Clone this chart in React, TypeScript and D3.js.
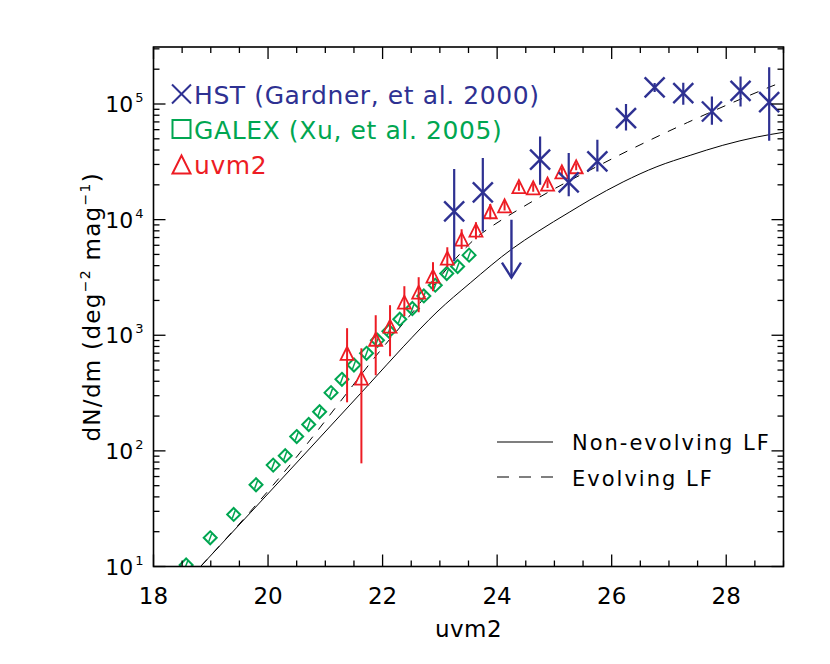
import React from 'react';
import * as d3 from 'd3';

// ---------- data ----------
const xTickValues = [18, 20, 22, 24, 26, 28];
const yTickExponents = [1, 2, 3, 4, 5];

// GALEX (Xu et al. 2005) number counts
const galexMag = [18.57, 18.99, 19.40, 19.79, 20.09, 20.30, 20.50, 20.71, 20.90, 21.10, 21.29, 21.50, 21.72, 21.91, 22.11, 22.30, 22.52, 22.72, 22.92, 23.12, 23.31, 23.51];
const galexN = [10.3, 17.7, 28.2, 50.9, 75.3, 90.8, 133, 169, 218, 319, 416, 553, 698, 905, 1084, 1377, 1704, 2188, 2710, 3420, 3933, 4930];

// uvm2 counts with error bars
const uvm2Mag = [21.38, 21.63, 21.88, 22.13, 22.38, 22.63, 22.88, 23.13, 23.38, 23.63, 23.88, 24.13, 24.38, 24.63, 24.88, 25.13, 25.38];
const uvm2N = [698, 425, 923, 1197, 1932, 2357, 3243, 4645, 6778, 8110, 11700, 13160, 19300, 18850, 20290, 25900, 28650];
const uvm2Lo = [263, 78, 451, 658, 1462, 1581, 2404, 3882, 5565, 6780, 10100, 12000, 17800, 17400, 18800, 24000, 26700];
const uvm2Hi = [1151, 771, 1490, 1820, 2656, 3177, 4285, 5780, 8274, 9510, 13620, 14400, 20900, 20400, 21900, 27900, 30700];

// HST (Gardner et al. 2000)
const hstMag = [23.25, 23.75, 24.75, 25.25, 25.75, 26.25, 26.75, 27.25, 27.75, 28.25, 28.75];
const hstN = [11780, 17180, 32970, 20990, 31860, 75500, 139000, 124200, 86100, 129900, 103700];
const hstLo = [4355, 7910, 20050, 15890, 26120, 59000, 127000, 98400, 66100, 95100, 48100];
const hstHi = [27360, 34040, 52360, 37670, 49070, 99770, 152000, 152400, 116100, 172900, 208300];

// HST upper limit
const limitMag = [24.25];
const limitN = [10000];

// model curves
const noEvoMag = [18.83, 19.69, 20.56, 21.43, 21.78, 22.36, 22.95, 23.53, 24.26, 24.70, 25.27, 25.62, 26.20, 26.79, 27.37, 27.94, 28.54, 29.0];
const noEvoN = [10.1, 29.1, 85.1, 249.5, 385, 794, 1591, 2833, 5580, 7830, 11670, 14820, 21200, 28710, 35970, 43950, 51880, 56890];
const evoMag = [18.83, 19.69, 20.56, 20.86, 21.12, 21.48, 21.83, 22.55, 23.27, 23.65, 23.89, 24.19, 24.54, 24.87, 25.80, 26.27, 26.62, 26.97, 27.32, 27.67, 28.01, 28.36, 28.80, 28.99];
const evoN = [10.1, 29.9, 96.6, 148.6, 217, 368, 614, 1641, 4571, 7080, 8640, 10760, 13670, 17020, 29790, 39080, 47460, 57410, 69020, 82600, 97960, 116100, 142900, 155600];

const legendLabels = ['HST (Gardner, et al. 2000)', 'GALEX (Xu, et al. 2005)', 'uvm2'];
const modelLabels = ['Non-evolving LF', 'Evolving LF'];

// ---------- style ----------
const BLUE = '#2E3192';
const GREEN = '#00A651';
const RED = '#ED1C24';
const FONT = "'DejaVu Sans', sans-serif";
const FW = 400;

const W = 830;
const H = 664;
const L = 153.5, R = 783.5, T = 47, B = 566.5;

function Cross({ cx, cy, s, color, w }: { cx: number; cy: number; s: number; color: string; w: number }) {
  return (
    <g stroke={color} strokeWidth={w} fill="none">
      <line x1={cx - s} y1={cy - s} x2={cx + s} y2={cy + s} />
      <line x1={cx - s} y1={cy + s} x2={cx + s} y2={cy - s} />
    </g>
  );
}

function Tri({ cx, cy, s, color, w }: { cx: number; cy: number; s: number; color: string; w: number }) {
  return (
    <path d={`M${cx - s},${cy + s} L${cx},${cy - s} L${cx + s},${cy + s} Z`} stroke={color} strokeWidth={w} fill="none" strokeLinejoin="miter" />
  );
}

function Diamond({ cx, cy, s, color, w }: { cx: number; cy: number; s: number; color: string; w: number }) {
  return (
    <path d={`M${cx},${cy - s} L${cx + s},${cy} L${cx},${cy + s} L${cx - s},${cy} Z`} stroke={color} strokeWidth={w} fill="none" />
  );
}

export default function App() {
  const x = d3.scaleLinear().domain([18, 29]).range([L, R]);
  const y = d3.scaleLog().domain([10, Math.pow(10, 5.493)]).range([B, T]);

  const line = d3
    .line<[number, number]>()
    .x((d) => x(d[0]))
    .y((d) => y(d[1]))
    .curve(d3.curveMonotoneX);

  const noEvoPts: [number, number][] = noEvoMag.map((m, i) => [m, noEvoN[i]]);
  const evoPts: [number, number][] = evoMag.map((m, i) => [m, evoN[i]]);

  const xMajor = d3.range(18, 29.001, 2);
  const xMinor = d3.range(18, 29.001, 0.5).filter((v) => Math.abs(v / 2 - Math.round(v / 2)) > 1e-6);
  const yMajor = yTickExponents.map((e) => Math.pow(10, e));
  const yMinor: number[] = [];
  for (let e = 1; e <= 5; e++) {
    for (let k = 2; k <= 9; k++) {
      const v = k * Math.pow(10, e);
      if (v < Math.pow(10, 5.493)) yMinor.push(v);
    }
  }
  const MAJ = 12;
  const MIN = 6;

  return (
    <svg width={W} height={H} style={{ position: 'fixed', left: 0, top: 0, background: '#fff' }} fontFamily={FONT}>
      <defs>
        <clipPath id="plotclip">
          <rect x={L} y={T} width={R - L} height={B - T} />
        </clipPath>
      </defs>
      <rect x={0} y={0} width={W} height={H} fill="#fff" />

      {/* model curves */}
      <g clipPath="url(#plotclip)" fill="none" stroke="#000" strokeWidth={1}>
        <path d={line(noEvoPts) || ''} />
        <path d={line(evoPts) || ''} strokeDasharray="9,9" />
      </g>

      {/* GALEX diamonds */}
      <g clipPath="url(#plotclip)">
        {galexMag.map((m, i) => {
          const cx = x(m);
          const cy = y(galexN[i]);
          return (
            <g key={'g' + i}>
              <Diamond cx={cx} cy={cy} s={6.5} color={GREEN} w={2} />
              <line x1={cx + 1.5} y1={cy - 4} x2={cx - 1.5} y2={cy + 4} stroke={GREEN} strokeWidth={1.5} />
            </g>
          );
        })}
      </g>

      {/* uvm2 triangles */}
      <g clipPath="url(#plotclip)">
        {uvm2Mag.map((m, i) => {
          const cx = x(m);
          const cy = y(uvm2N[i]);
          return (
            <g key={'u' + i}>
              <line x1={cx} x2={cx} y1={y(uvm2Hi[i])} y2={y(uvm2Lo[i])} stroke={RED} strokeWidth={2} />
              <Tri cx={cx} cy={cy} s={6.5} color={RED} w={1.8} />
            </g>
          );
        })}
      </g>

      {/* HST crosses */}
      <g clipPath="url(#plotclip)">
        {hstMag.map((m, i) => {
          const cx = x(m);
          const cy = y(hstN[i]);
          return (
            <g key={'h' + i}>
              <line x1={cx} x2={cx} y1={y(hstHi[i])} y2={y(hstLo[i])} stroke={BLUE} strokeWidth={2.2} />
              <Cross cx={cx} cy={cy} s={10} color={BLUE} w={2.4} />
            </g>
          );
        })}
        {limitMag.map((m, i) => {
          const cx = x(m);
          const y0 = y(limitN[i]);
          const y1 = y0 + 58;
          return (
            <g key={'l' + i} stroke={BLUE} strokeWidth={2.4} fill="none">
              <line x1={cx} x2={cx} y1={y0} y2={y1} />
              <polyline points={`${cx - 9.5},${y1 - 15} ${cx},${y1} ${cx + 9.5},${y1 - 15}`} />
            </g>
          );
        })}
      </g>

      {/* frame */}
      <rect x={L} y={T} width={R - L} height={B - T} fill="none" stroke="#000" strokeWidth={1.6} />

      {/* ticks */}
      <g stroke="#000" strokeWidth={1.3}>
        {xMajor.map((v) => (
          <g key={'xM' + v}>
            <line x1={x(v)} x2={x(v)} y1={B} y2={B - MAJ} />
            <line x1={x(v)} x2={x(v)} y1={T} y2={T + MAJ} />
          </g>
        ))}
        {xMinor.map((v) => (
          <g key={'xm' + v}>
            <line x1={x(v)} x2={x(v)} y1={B} y2={B - MIN} />
            <line x1={x(v)} x2={x(v)} y1={T} y2={T + MIN} />
          </g>
        ))}
        {yMajor.map((v) => (
          <g key={'yM' + v}>
            <line x1={L} x2={L + MAJ} y1={y(v)} y2={y(v)} />
            <line x1={R} x2={R - MAJ} y1={y(v)} y2={y(v)} />
          </g>
        ))}
        {yMinor.map((v) => (
          <g key={'ym' + v}>
            <line x1={L} x2={L + MIN} y1={y(v)} y2={y(v)} />
            <line x1={R} x2={R - MIN} y1={y(v)} y2={y(v)} />
          </g>
        ))}
      </g>

      {/* tick labels */}
      <g fontSize={23} fontWeight={FW} fill="#000">
        {xTickValues.map((v) => (
          <text key={'xl' + v} x={x(v)} y={B + 37.5} textAnchor="middle">
            {v}
          </text>
        ))}
      </g>
      <g fontSize={22} fontWeight={FW} fill="#000">
        {yTickExponents.map((e) => (
          <text key={'yl' + e} x={143.5} y={y(Math.pow(10, e)) + 8} textAnchor="end">
            10
            <tspan dy={-10} fontSize={13} dx={2}>
              {e}
            </tspan>
          </text>
        ))}
      </g>

      {/* axis titles */}
      <text x={(L + R) / 2} y={637} textAnchor="middle" fontSize={23} fontWeight={FW} letterSpacing={0.5}>
        uvm2
      </text>
      <text
        transform={`translate(100, ${(T + B) / 2}) rotate(-90)`}
        textAnchor="middle"
        fontSize={23}
        fontWeight={FW}
        letterSpacing={1.3}
      >
        dN/dm (deg
        <tspan dy={-10} fontSize={14}>−2</tspan>
        <tspan dy={10}> mag</tspan>
        <tspan dy={-10} fontSize={14}>−1</tspan>
        <tspan dy={10}>)</tspan>
      </text>

      {/* data legend */}
      <g fontSize={25} fontWeight={FW} letterSpacing={0.6}>
        <Cross cx={181.5} cy={94} s={9.5} color={BLUE} w={2} />
        <text x={194} y={103.5} fill={BLUE}>{legendLabels[0]}</text>
        <rect x={172.5} y={120} width={18} height={18} fill="none" stroke={GREEN} strokeWidth={2} />
        <text x={194} y={138.5} fill={GREEN}>{legendLabels[1]}</text>
        <Tri cx={181.5} cy={164.5} s={9} color={RED} w={2} />
        <text x={194} y={173.5} fill={RED}>{legendLabels[2]}</text>
      </g>

      {/* model legend */}
      <g fontSize={21} fontWeight={FW} letterSpacing={2}>
        <line x1={497} x2={553} y1={442} y2={442} stroke="#000" strokeWidth={1.2} />
        <text x={572} y={450}>{modelLabels[0]}</text>
        <line x1={497} x2={553} y1={477} y2={477} stroke="#000" strokeWidth={1.2} strokeDasharray="12,10" />
        <text x={572} y={486}>{modelLabels[1]}</text>
      </g>
    </svg>
  );
}
